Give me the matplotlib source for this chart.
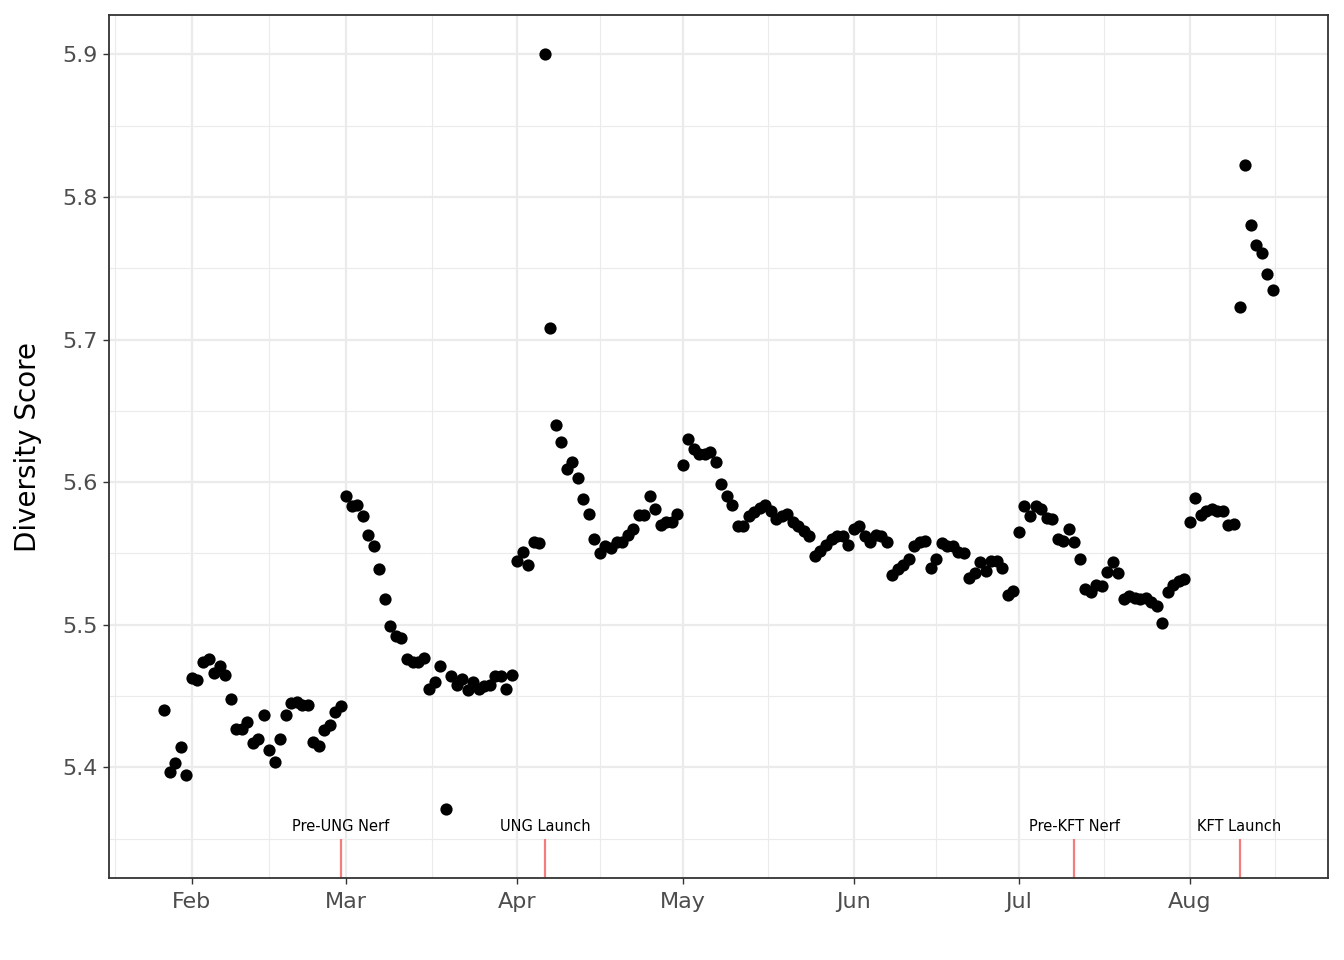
import numpy as np
import pandas as pd
import matplotlib
matplotlib.use("Agg")
from matplotlib import pyplot as plt
import matplotlib.dates as mdates

# daily diversity score, 2023-01-27 .. 2023-08-16
start_date = "2023-01-27"
scores = [
    5.440, 5.397, 5.403, 5.414, 5.395,                      # Jan 27-31
    5.463, 5.461, 5.474, 5.476, 5.466, 5.471, 5.465, 5.448, 5.427, 5.427,
    5.432, 5.417, 5.420, 5.437, 5.412, 5.404, 5.420, 5.437, 5.445, 5.446,
    5.444, 5.444, 5.418, 5.415, 5.426, 5.430, 5.439, 5.443,  # Feb
    5.590, 5.583, 5.584, 5.576, 5.563, 5.555, 5.539, 5.518, 5.499, 5.492,
    5.491, 5.476, 5.474, 5.474, 5.477, 5.455, 5.460, 5.471, 5.371, 5.464,
    5.458, 5.462, 5.454, 5.460, 5.455, 5.457, 5.458, 5.464, 5.464, 5.455,
    5.465,                                                   # Mar
    5.545, 5.551, 5.542, 5.558, 5.557, 5.900, 5.708, 5.640, 5.628, 5.609,
    5.614, 5.603, 5.588, 5.578, 5.560, 5.550, 5.555, 5.554, 5.558, 5.558,
    5.563, 5.567, 5.577, 5.577, 5.590, 5.581, 5.570, 5.572, 5.572, 5.578,  # Apr
    5.612, 5.630, 5.623, 5.620, 5.620, 5.621, 5.614, 5.599, 5.590, 5.584,
    5.569, 5.569, 5.576, 5.579, 5.582, 5.584, 5.580, 5.574, 5.576, 5.578,
    5.572, 5.569, 5.566, 5.562, 5.548, 5.552, 5.556, 5.560, 5.562, 5.562,
    5.556,                                                   # May
    5.567, 5.569, 5.562, 5.558, 5.563, 5.562, 5.558, 5.535, 5.539, 5.542,
    5.546, 5.555, 5.558, 5.559, 5.540, 5.546, 5.557, 5.555, 5.555, 5.551,
    5.550, 5.533, 5.536, 5.544, 5.538, 5.545, 5.545, 5.540, 5.521, 5.524,  # Jun
    5.565, 5.583, 5.576, 5.583, 5.581, 5.575, 5.574, 5.560, 5.559, 5.567,
    5.558, 5.546, 5.525, 5.523, 5.528, 5.527, 5.537, 5.544, 5.536, 5.518,
    5.520, 5.519, 5.518, 5.519, 5.516, 5.513, 5.501, 5.523, 5.528, 5.531,
    5.532,                                                   # Jul
    5.572, 5.589, 5.577, 5.580, 5.581, 5.580, 5.580, 5.570, 5.571, 5.723,
    5.822, 5.780, 5.766, 5.761, 5.746, 5.735,                # Aug 1-16
]

event_dates = ["2023-02-28", "2023-04-06", "2023-07-11", "2023-08-10"]
event_labels = ["Pre-UNG Nerf", "UNG Launch", "Pre-KFT Nerf", "KFT Launch"]

month_ticks = ["2023-02-01", "2023-03-01", "2023-04-01", "2023-05-01",
               "2023-06-01", "2023-07-01", "2023-08-01"]
month_labels = ["Feb", "Mar", "Apr", "May", "Jun", "Jul", "Aug"]

dates = pd.date_range(start_date, periods=len(scores), freq="D")
x = mdates.date2num(dates)

fig = plt.figure(figsize=(13.44, 9.6), dpi=100)
ax = fig.add_axes([109 / 1344, 1 - 878 / 960, (1328 - 109) / 1344, (878 - 15) / 960])

# ggplot-like expansion
span = x[-1] - x[0]
ax.set_xlim(x[0] - 0.05 * span, x[-1] + 0.05 * span)
ylo, yhi = 5.35, 5.90
ax.set_ylim(ylo - 0.05 * (yhi - ylo), yhi + 0.05 * (yhi - ylo))

# grid
major_x = mdates.date2num(pd.to_datetime(month_ticks))
ext = np.concatenate([[major_x[0] - (major_x[1] - major_x[0])], major_x,
                      [major_x[-1] + (major_x[-1] - major_x[-2])]])
minor_x = (ext[:-1] + ext[1:]) / 2
major_y = np.arange(5.4, 5.95, 0.1)
minor_y = np.arange(5.35, 5.90, 0.1)
for v in minor_x:
    ax.axvline(v, color="#EBEBEB", lw=0.8, zorder=0)
for v in minor_y:
    ax.axhline(v, color="#EBEBEB", lw=0.8, zorder=0)
for v in major_x:
    ax.axvline(v, color="#EBEBEB", lw=1.6, zorder=0)
for v in major_y:
    ax.axhline(v, color="#EBEBEB", lw=1.6, zorder=0)

ax.plot(x, scores, "o", color="black", markersize=8.8, markeredgewidth=0, zorder=3)

ev_x = mdates.date2num(pd.to_datetime(event_dates))
ax.vlines(ev_x, ax.get_ylim()[0], 5.35, color="#F47C7C", lw=1.6, zorder=2)
for ex, lab in zip(ev_x, event_labels):
    ax.text(ex, 5.3585, lab, ha="center", va="center", fontsize=10.5, color="black", zorder=4)

ax.set_xticks(major_x)
ax.set_xticklabels(month_labels)
ax.set_yticks(major_y)
ax.set_yticklabels([f"{v:.1f}" for v in major_y])
ax.tick_params(axis="both", length=4, width=1, color="#333333", labelcolor="#4D4D4D",
               labelsize=16)
ax.tick_params(axis="x", pad=6)
ax.tick_params(axis="y", pad=4)
ax.set_ylabel("Diversity Score", fontsize=20, color="black", labelpad=15)

for s in ax.spines.values():
    s.set_color("#333333")
    s.set_linewidth(1.3)

fig.savefig("out.png", dpi=100)
